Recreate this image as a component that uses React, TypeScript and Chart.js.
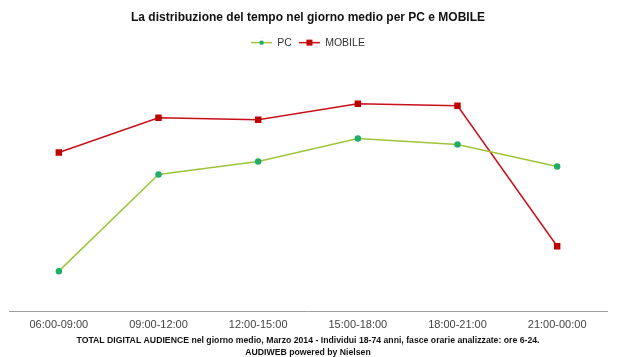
import React, { useEffect, useRef } from "react";
import { Chart, registerables } from "chart.js";

Chart.register(...registerables);

const categories = ["06:00-09:00", "09:00-12:00", "12:00-15:00", "15:00-18:00", "18:00-21:00", "21:00-00:00"];
const pcValues = [41, 138, 151, 174, 168, 146];
const mobileValues = [160, 195, 193, 209, 207, 66];
const titleText = "La distribuzione del tempo nel giorno medio per PC e MOBILE";
const footerLines = [
  "TOTAL DIGITAL AUDIENCE nel giorno medio, Marzo 2014 - Individui 18-74 anni, fasce orarie analizzate: ore 6-24.",
  "AUDIWEB powered by Nielsen",
];

const legendLinePlugin = {
  id: "legendLine",
  afterDraw(chart: any) {
    const legend = chart.legend;
    if (!legend || !legend.legendHitBoxes) return;
    const ctx = chart.ctx;
    const items = legend.legendItems || [];
    legend.legendHitBoxes.forEach((hb: any, i: number) => {
      const ds = chart.data.datasets[items[i].datasetIndex];
      const w = 21;
      const cy = hb.top + hb.height / 2;
      ctx.save();
      ctx.fillStyle = "#fff";
      ctx.fillRect(hb.left - 1, hb.top, w + 2, hb.height);
      ctx.strokeStyle = ds.borderColor;
      ctx.lineWidth = 1.5;
      ctx.beginPath();
      ctx.moveTo(hb.left, cy);
      ctx.lineTo(hb.left + w, cy);
      ctx.stroke();
      ctx.fillStyle = ds.pointBackgroundColor;
      const cx = hb.left + w / 2;
      if (ds.pointStyle === "rect") {
        ctx.fillRect(cx - 3, cy - 3, 6, 6);
      } else {
        ctx.beginPath();
        ctx.arc(cx, cy, 2.2, 0, Math.PI * 2);
        ctx.fill();
      }
      ctx.restore();
    });
  },
};

export default function App() {
  const ref = useRef<HTMLCanvasElement | null>(null);
  useEffect(() => {
    document.body.style.margin = "0";
    const ctx = ref.current!;
    const chart = new Chart(ctx, {
      type: "line",
      data: {
        labels: categories,
        datasets: [
          {
            label: "PC",
            data: pcValues,
            borderColor: "#9dc53a",
            backgroundColor: "#1fae6a",
            pointBackgroundColor: "#1fae6a",
            pointBorderColor: "#1fae6a",
            pointStyle: "circle",
            pointRadius: 2.5,
            borderWidth: 1.5,
          },
          {
            label: "MOBILE",
            data: mobileValues,
            borderColor: "#c8101a",
            backgroundColor: "#c00000",
            pointBackgroundColor: "#c00000",
            pointBorderColor: "#c00000",
            pointStyle: "rect",
            pointRadius: 3.5,
            borderWidth: 1.5,
          },
        ],
      },
      plugins: [legendLinePlugin],
      options: {
        responsive: false,
        animation: false,
        layout: { padding: { left: 9, right: 13, top: 6, bottom: -2 } },
        plugins: {
          title: {
            display: true,
            text: titleText,
            color: "#111",
            font: { family: "Liberation Sans", size: 12, weight: "bold" },
            padding: { top: 4, bottom: 6 },
          },
          subtitle: {
            display: true,
            position: "bottom",
            text: footerLines,
            color: "#111",
            font: { family: "Liberation Sans", size: 8.7, weight: "bold", lineHeight: 1.38 },
            padding: { top: 1, bottom: 0 },
          },
          legend: {
            display: true,
            labels: {
              usePointStyle: true,
              pointStyleWidth: 21,
              boxHeight: 6,
              color: "#333",
              font: { family: "Liberation Sans", size: 10.5 },
              padding: 7,
            },
          },
          tooltip: { enabled: false },
        },
        scales: {
          x: {
            offset: true,
            grid: { display: false, drawTicks: false },
            border: { display: true, color: "#a0a0a0", width: 1 },
            ticks: {
              color: "#444",
              font: { family: "Liberation Sans", size: 11 },
              padding: 6,
              maxRotation: 0,
            },
            afterFit: (scale: any) => {
              scale.height = 22;
            },
          },
          y: {
            display: false,
            min: 0,
            max: 255,
          },
        },
      },
    });
    return () => chart.destroy();
  }, []);
  return (
    <div style={{ width: 620, height: 357, background: "#fff" }}>
      <canvas ref={ref} width={620} height={357} />
    </div>
  );
}
